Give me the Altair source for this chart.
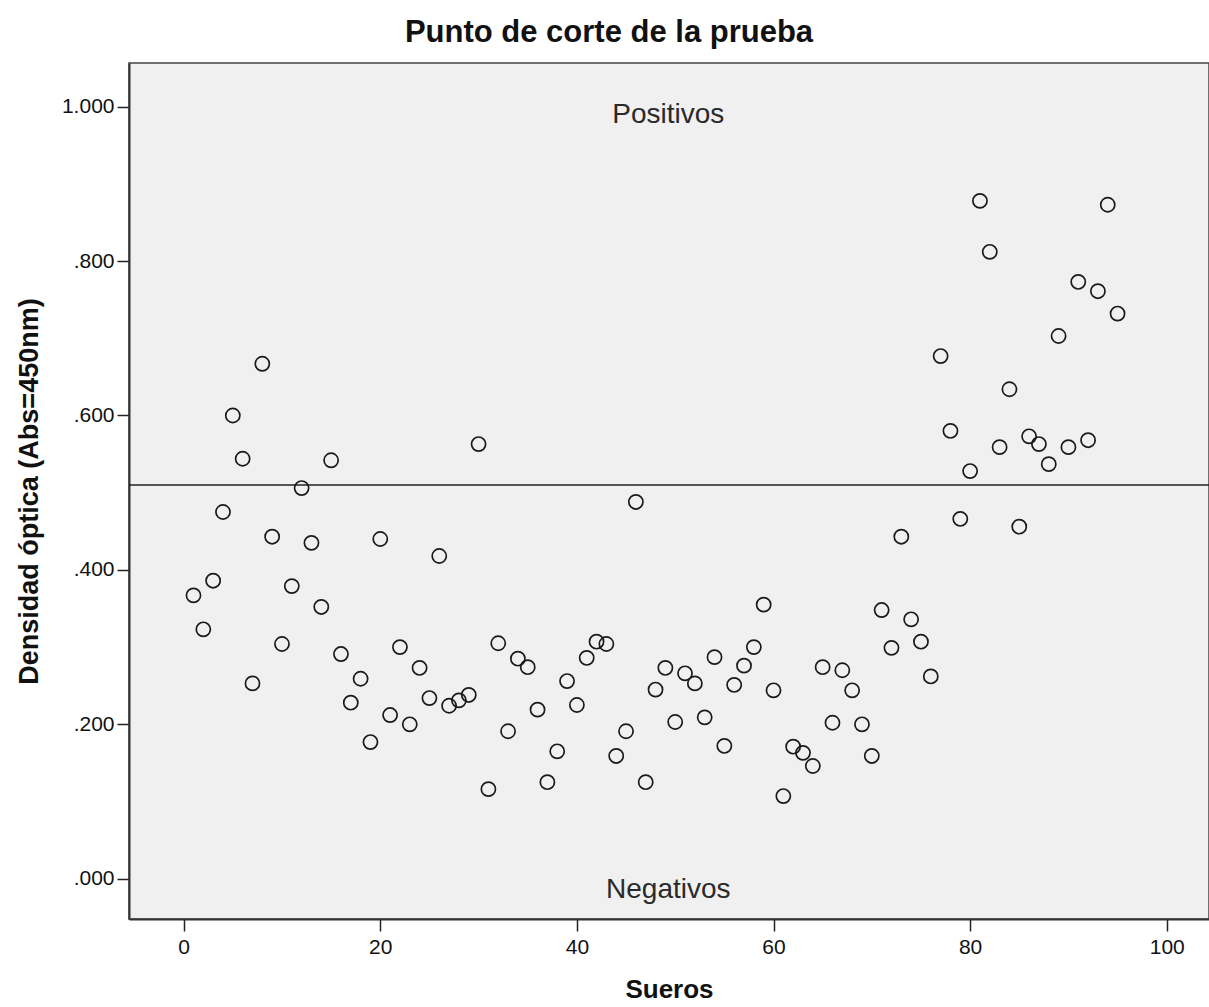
import altair as alt
import pandas as pd

# Optical density readings per serum sample (Abs = 450 nm)
sueros = list(range(1, 96))
densidad = [
    0.367, 0.323, 0.386, 0.475, 0.600, 0.544, 0.253, 0.667, 0.443, 0.304,
    0.379, 0.506, 0.435, 0.352, 0.542, 0.291, 0.228, 0.259, 0.177, 0.440,
    0.212, 0.300, 0.200, 0.273, 0.234, 0.418, 0.224, 0.231, 0.238, 0.563,
    0.116, 0.305, 0.191, 0.285, 0.274, 0.219, 0.125, 0.165, 0.256, 0.225,
    0.286, 0.307, 0.304, 0.159, 0.191, 0.488, 0.125, 0.245, 0.273, 0.203,
    0.266, 0.253, 0.209, 0.287, 0.172, 0.251, 0.276, 0.300, 0.355, 0.244,
    0.107, 0.171, 0.163, 0.146, 0.274, 0.202, 0.270, 0.244, 0.200, 0.159,
    0.348, 0.299, 0.443, 0.336, 0.307, 0.262, 0.677, 0.580, 0.466, 0.528,
    0.878, 0.812, 0.559, 0.634, 0.456, 0.573, 0.563, 0.537, 0.703, 0.559,
    0.773, 0.568, 0.761, 0.873, 0.732,
]

# Cut-off value of the test
punto_corte = [0.510]

# Region labels above / below the cut-off
zonas = ["Positivos", "Negativos"]
zonas_x = [49.3, 49.3]
zonas_y = [0.979, -0.025]

x_ticks = [0, 20, 40, 60, 80, 100]
y_ticks = [0.0, 0.2, 0.4, 0.6, 0.8, 1.0]

puntos = pd.DataFrame({"Sueros": sueros, "Densidad": densidad})
corte = pd.DataFrame({"corte": punto_corte})
etiquetas = pd.DataFrame({"zona": zonas, "x": zonas_x, "y": zonas_y})

FONT = "Liberation Sans, Arial, sans-serif"

x_scale = alt.Scale(domain=[-5.56, 104.3], nice=False, zero=False)
y_scale = alt.Scale(domain=[-0.0522, 1.0566], nice=False, zero=False)

x_axis = alt.Axis(
    title="Sueros",
    values=x_ticks,
    format="d",
    grid=False,
    tickSize=12,
    tickWidth=1.5,
    tickColor="#222",
    labelPadding=5,
    labelFont=FONT,
    labelFontSize=21,
    labelColor="#111",
    domainColor="#333",
    domainWidth=2,
    titleFont=FONT,
    titleFontSize=26,
    titleFontWeight="bold",
    titleColor="#111",
    titlePadding=19,
)

y_axis = alt.Axis(
    title="Densidad óptica (Abs=450nm)",
    values=y_ticks,
    labelExpr="datum.value < 1 ? substring(format(datum.value, '.3f'), 1) : format(datum.value, '.3f')",
    grid=False,
    tickSize=12,
    tickWidth=1.5,
    tickColor="#222",
    labelPadding=3,
    labelFont=FONT,
    labelFontSize=21,
    labelColor="#111",
    domainColor="#333",
    domainWidth=2,
    titleFont=FONT,
    titleFontSize=27,
    titleFontWeight="bold",
    titleColor="#111",
    titlePadding=18,
)

scatter = alt.Chart(puntos).mark_point(
    shape="circle",
    filled=False,
    size=200,
    strokeWidth=1.7,
    color="#1a1a1a",
    opacity=1,
).encode(
    x=alt.X("Sueros:Q", scale=x_scale, axis=x_axis),
    y=alt.Y("Densidad:Q", scale=y_scale, axis=y_axis),
)

linea = alt.Chart(corte).mark_rule(color="#222", strokeWidth=1.4).encode(
    y=alt.Y("corte:Q", scale=y_scale),
)

textos = alt.Chart(etiquetas).mark_text(
    font=FONT,
    fontSize=28,
    color="#2a2a2a",
    align="center",
    baseline="alphabetic",
).encode(
    x=alt.X("x:Q", scale=x_scale),
    y=alt.Y("y:Q", scale=y_scale),
    text="zona:N",
)

chart = (
    alt.layer(linea, scatter, textos)
    .properties(
        width=1080,
        height=856,
        background="white",
        autosize=alt.AutoSizeParams(type="none"),
        padding={"left": 129, "top": 63, "right": 0, "bottom": 88},
        title=alt.TitleParams(
            "Punto de corte de la prueba",
            font=FONT,
            fontSize=31,
            fontWeight="bold",
            color="#111",
            anchor="middle",
            dx=-60,
            offset=14,
        ),
    )
    .configure_view(fill="#f0f0f0", stroke="#444", strokeWidth=1.5)
)

chart.save("out.html", embed_options={"renderer": "svg", "actions": False})
